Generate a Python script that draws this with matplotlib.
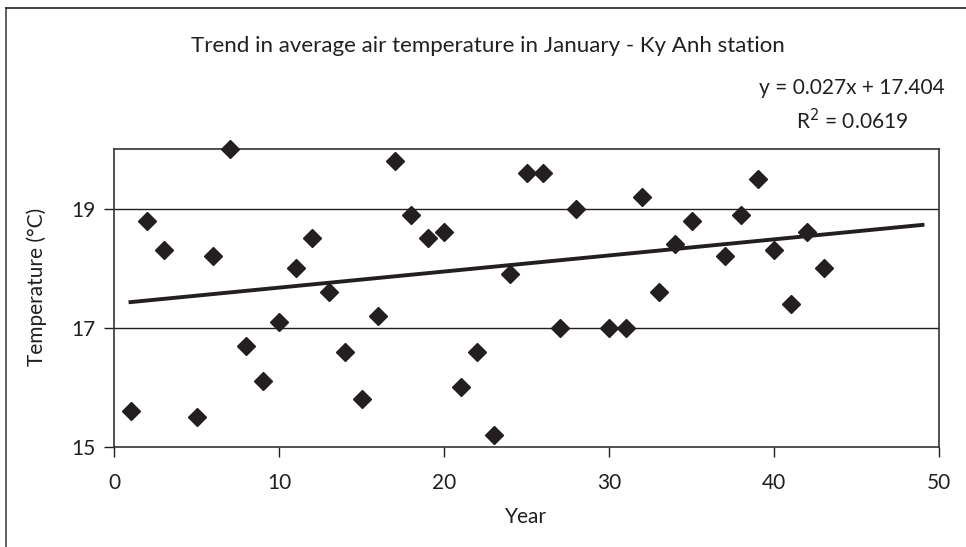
import matplotlib.pyplot as plt
from matplotlib.lines import Line2D

# January mean air temperature at Ky Anh station, by year index
years = [1, 2, 3, 5, 6, 7, 8, 9, 10, 11, 12, 13, 14, 15, 16, 17, 18, 19, 20,
         21, 22, 23, 24, 25, 26, 27, 28, 30, 31, 32, 33, 34, 35, 37, 38, 39,
         40, 41, 42, 43]
temps = [15.6, 18.8, 18.3, 15.5, 18.2, 20.0, 16.7, 16.1, 17.1, 18.0, 18.5,
         17.6, 16.6, 15.8, 17.2, 19.8, 18.9, 18.5, 18.6, 16.0, 16.6, 15.2,
         17.9, 19.6, 19.6, 17.0, 19.0, 17.0, 17.0, 19.2, 17.6, 18.4, 18.8,
         18.2, 18.9, 19.5, 18.3, 17.4, 18.6, 18.0]

# linear trendline as reported
slope = 0.027
intercept = 17.404
r_squared = 0.0619
trend_x = [1, 49]

x_ticks = [0, 10, 20, 30, 40, 50]
y_ticks = [15, 17, 19]

INK = '#231f20'
plt.rcParams['font.family'] = ['Lato', 'DejaVu Sans']

fig = plt.figure(figsize=(9.66, 5.47), dpi=100)
ax = fig.add_axes([114 / 966, 1 - 447 / 547, 825 / 966, 298 / 547])

ax.plot(years, temps, linestyle='none', marker='D', markersize=9.5,
        color=INK, zorder=3, clip_on=False)
trend_y = [slope * x + intercept for x in trend_x]
ax.plot(trend_x, trend_y, color=INK, linewidth=2.8, zorder=4)

ax.set_xlim(0, 50)
ax.set_ylim(15, 20)
ax.set_xticks(x_ticks)
ax.set_yticks(y_ticks)
ax.tick_params(direction='out', length=7, width=1, color=INK,
               labelsize=15, labelcolor=INK, pad=6)
ax.tick_params(axis='x', pad=12)
for y in y_ticks[1:]:
    ax.axhline(y, color=INK, linewidth=1, zorder=1)
for s in ax.spines.values():
    s.set_color('#333333')
    s.set_linewidth(1.2)

fig.text(488 / 966, 1 - 46 / 547,
         'Trend in average air temperature in January - Ky Anh station',
         ha='center', va='center', fontsize=16, color=INK)
fig.text(852 / 966, 1 - 88 / 547, f'y = {slope}x + {intercept}',
         ha='center', va='center', fontsize=15, color=INK)
fig.text(852 / 966, 1 - 121 / 547, f'R$^2$ = {r_squared}',
         ha='center', va='center', fontsize=15, color=INK)
fig.text(37 / 966, 1 - 287 / 547, 'Temperature (°C)', rotation=90,
         ha='center', va='center', fontsize=15, color=INK)
fig.text(526 / 966, 1 - 517 / 547, 'Year',
         ha='center', va='center', fontsize=15, color=INK)

# outer chart frame: left and top edges only
fig.add_artist(Line2D([6 / 966, 6 / 966], [0, 1 - 8 / 547],
                      transform=fig.transFigure, color='#444444', linewidth=1.2))
fig.add_artist(Line2D([6 / 966, 1], [1 - 8 / 547, 1 - 8 / 547],
                      transform=fig.transFigure, color='#222222', linewidth=1.2))

fig.savefig('out.png', dpi=100)
